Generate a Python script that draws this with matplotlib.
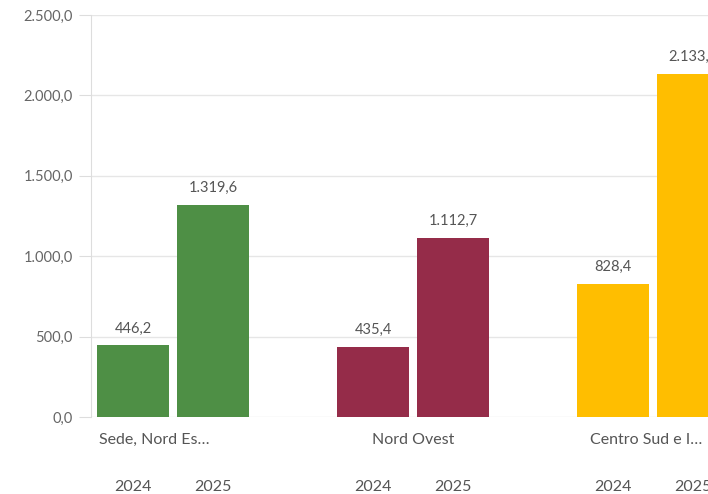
import numpy as np
import matplotlib.pyplot as plt
import matplotlib.transforms as mtransforms

categories = ['Sede, Nord Es…', 'Nord Ovest', 'Centro Sud e I…']
years = ['2024', '2025']
values_2024 = [446.2, 435.4, 828.4]
values_2025 = [1319.6, 1112.7, 2133.0]
colors = ['#4e8f45', '#952c49', '#ffbe00']
yticks = [0, 500, 1000, 1500, 2000, 2500]

def fmt_it(v):
    s = f'{v:,.1f}'
    return s.replace(',', 'X').replace('.', ',').replace('X', '.')

plt.rcParams['font.family'] = ['Lato', 'DejaVu Sans']

W, H = 708, 494
fig = plt.figure(figsize=(W / 100, H / 100), dpi=100)
# axes extends past right edge like the cropped screenshot
ax = fig.add_axes([91 / W, 77 / H, 644 / W, 402 / H])

x = np.arange(len(categories))
bw = 0.3
off = 1 / 6
for i in range(len(categories)):
    for j, vals in enumerate([values_2024, values_2025]):
        xp = x[i] + (-off if j == 0 else off)
        ax.bar(xp, vals[i], width=bw, color=colors[i], zorder=3)
        ax.annotate(fmt_it(vals[i]), (xp, vals[i]), xytext=(0, 7), textcoords='offset points',
                    ha='center', va='bottom', fontsize=10.5, color='#555555')

ax.set_xlim(-0.342, 2.342)
ax.set_ylim(0, 2500)
ax.set_yticks(yticks)
ax.set_yticklabels([fmt_it(v) for v in yticks], fontsize=10.5, color='#666666')
ax.tick_params(axis='y', length=9, color='#dddddd', pad=4)
ax.set_xticks([])
ax.grid(axis='y', color='#e6e6e6', linewidth=1, zorder=0)
for s in ['top', 'right', 'bottom']:
    ax.spines[s].set_visible(False)
ax.spines['left'].set_color('#dddddd')

# truncated labels sit a little left of the group centre
label_shift = [-0.079, 0.0, -0.03]
trans = mtransforms.blended_transform_factory(ax.transData, fig.transFigure)
for i, c in enumerate(categories):
    ax.text(x[i] + label_shift[i], 1 - 440 / H, c, transform=trans, ha='center', va='center',
            fontsize=11.5, color='#555555', clip_on=False)
    for j, yr in enumerate(years):
        xp = x[i] + (-off if j == 0 else off)
        ax.text(xp, 1 - 487 / H, yr, transform=trans, ha='center', va='center',
                fontsize=11.5, color='#555555', clip_on=False)

fig.savefig('out.png', dpi=100)
